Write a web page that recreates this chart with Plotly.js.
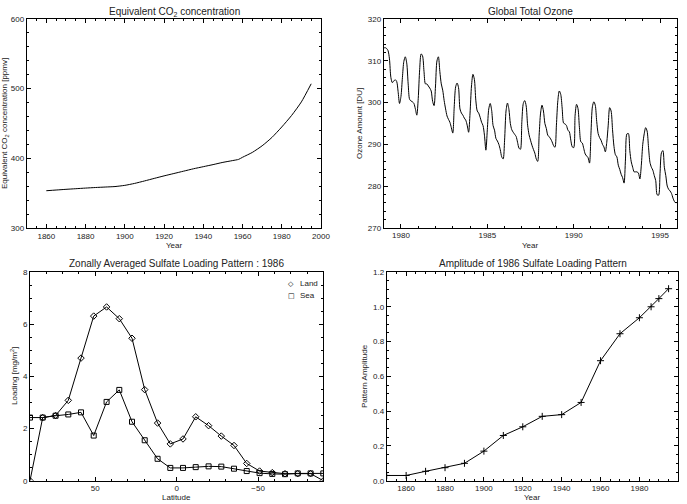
<!DOCTYPE html>
<html><head><meta charset="utf-8">
<script src="https://cdn.plot.ly/plotly-3.0.1.min.js"></script>
<style>html,body{margin:0;padding:0;background:#fff}#chart{width:687px;height:504px}</style>
</head><body><div id="chart"></div><script>
// ---- Data ----
const co2Years = [1860,1865,1870,1875,1880,1885,1890,1895,1900,1905,1910,1915,1920,1925,1930,1935,1940,1945,1950,1955,1958,1960,1965,1970,1975,1980,1985,1990,1995];
const co2Values = [353.5,354.5,355.5,356.4,357.3,358.1,358.8,359.5,361.2,364,367.5,371.2,374.8,378.2,381.6,385,388,391,394.2,396.8,398.5,401.5,408.5,418,430,445,461.5,481,507];

const ozoneYears = [1979,1980,1981,1982,1983,1984,1985,1986,1987,1988,1989,1990,1991,1992,1993,1994,1995];
const ozoneMonths = [1,2,3,4,5,6,7,8,9,10,11,12];
const ozoneMonthly = [
  [313.1,313.2,313,312.5,310.5,306,304.8,305.2,305.5,305.1,302.7,299.8],
  [301.5,306,309.9,311,309.5,304.5,300.8,300.4,300.2,299.8,298.5,297],
  [301,308,311.7,311.2,307.5,304.5,304.5,304,303.5,302.8,300.3,299.3],
  [304,310,311,307.5,304.5,303,300.5,298.5,296.8,296,295.3,294],
  [292.7,299,303.8,304.7,303.6,298.5,297.5,297,296.3,295.8,294.6,292.9],
  [297.5,304,306.8,305.6,300.6,298,297.5,296.5,295.3,294.5,292.2,288.6],
  [293.5,298.5,299.8,298.2,294.5,293.4,291.4,290.8,290,288.7,287,286.5],
  [291,298,299.9,298.4,295,293.5,292.9,292.4,291.9,290.5,289.1,288.8],
  [295.5,299.8,300.5,299.2,294.6,292.3,291,289.8,288.8,287.9,286.5,285.9],
  [292.2,297.5,299.4,298,295,293.8,292.2,291.8,291.3,290.6,289.7,289.3],
  [294.6,300.5,302.8,302,298.7,295.1,294.9,294.5,293.4,293,291,289.4],
  [289.2,297,299.6,298.6,294,290.6,290.3,289,287.7,287.2,286.8,285.5],
  [292.5,299,300.2,299.4,295.5,292.6,291.6,291,290,289.4,288.2,290.5],
  [294.6,298.8,298,293.5,289.5,287.5,287,285,284,282.8,282,280.7],
  [286.5,292.5,292.6,288.5,285.8,284.5,283.4,283.4,283.4,283.1,281.7,285],
  [290,292.5,294,293.2,289.3,285.7,284.5,283.8,282.5,281.3,277.9,277.8],
  [283,288,288.5,284.5,282.5,280,279.2,278.8,278.2,277.1,276.3,275.9]
];

const sulfateLat = [90,82.2,74.3,66.5,58.7,50.9,43.0,35.2,27.4,19.6,11.7,3.9,-3.9,-11.7,-19.6,-27.4,-35.2,-43.0,-50.9,-58.7,-66.5,-74.3,-82.2,-90];
const sulfateLand = [0,2.42,2.5,3.08,4.7,6.31,6.66,6.21,5.46,3.49,2.21,1.41,1.6,2.45,2.11,1.71,1.35,0.66,0.37,0.31,0.27,0.27,0.27,0];
const sulfateSea = [2.42,2.42,2.49,2.54,2.62,1.73,3.02,3.48,2.26,1.55,0.84,0.49,0.49,0.52,0.55,0.54,0.46,0.37,0.29,0.26,0.25,0.28,0.28,0.28];
const sulfateSeries = ['Land', 'Sea'];

const ampYears = [1850,1860,1870,1880,1890,1900,1910,1920,1930,1940,1950,1960,1970,1980,1986,1990,1995];
const ampValues = [0.03,0.03,0.054,0.075,0.1,0.17,0.26,0.31,0.37,0.38,0.45,0.69,0.845,0.937,1.0,1.047,1.104];

// ---- Build ----
const ozoneX = [], ozoneY = [];
ozoneYears.forEach((yr, i) => {
  ozoneMonths.forEach((mo, j) => {
    ozoneX.push(yr + (mo - 1) / 12);
    ozoneY.push(ozoneMonthly[i][j]);
  });
});

const F = 'Liberation Sans, Arial, Helvetica, sans-serif';
const W = 687, H = 504;
const px = x => x / W, py = y => 1 - y / H;

function ax(extra) {
  return Object.assign({
    showline: true, linecolor: '#000', linewidth: 1, mirror: 'ticks',
    ticks: 'inside', ticklen: 4, tickwidth: 1, tickcolor: '#000',
    showgrid: false, zeroline: false, autorange: false, tickmode: 'linear',
    tickfont: {family: F, size: 8, color: '#222'},
  }, extra);
}
function minor(d) { return {ticks: 'inside', ticklen: 2, tickwidth: 1, tickcolor: '#000', dtick: d, showgrid: false}; }

const line = {color: '#000', width: 1};
const traces = [
  {x: co2Years, y: co2Values, mode: 'lines', xaxis: 'x', yaxis: 'y', showlegend: false, line: {color:'#000', width:1, shape:'spline', smoothing:0.6}},
  {x: ozoneX, y: ozoneY, mode: 'lines', line: {color:'#000', width:1, shape:'spline', smoothing:0.8}, xaxis: 'x2', yaxis: 'y2', showlegend: false},
  {x: sulfateLat, y: sulfateLand, name: sulfateSeries[0], mode: 'lines+markers', line: line, marker: {symbol: 'diamond-open', size: 5, color: '#000', line: {width: 1}}, xaxis: 'x3', yaxis: 'y3', showlegend: false},
  {x: sulfateLat, y: sulfateSea, name: sulfateSeries[1], mode: 'lines+markers', line: line, marker: {symbol: 'square-open', size: 5, color: '#000', line: {width: 1}}, xaxis: 'x3', yaxis: 'y3', showlegend: false},
  {x: ampYears, y: ampValues, mode: 'lines+markers', line: line, marker: {symbol: 'cross-thin-open', size: 5, color: '#000', line: {width: 1, color: '#000'}}, xaxis: 'x4', yaxis: 'y4', showlegend: false}
];

const tfont = {family: F, size: 10, color: '#222'};
const afont = {family: F, size: 8, color: '#222'};
const sfont = {family: 'DejaVu Sans', size: 7, color: '#000'};
function ann(text, x, y, font, angle, anchor) {
  return {text: text, x: px(x), y: py(y), xref: 'paper', yref: 'paper', showarrow: false,
          xanchor: anchor || 'center', yanchor: 'middle', font: font, textangle: angle || 0};
}

const layout = {
  width: W, height: H, margin: {l: 0, r: 0, t: 0, b: 0},
  paper_bgcolor: '#fff', plot_bgcolor: '#fff',
  font: {family: F, color: '#222'},
  showlegend: false,
  xaxis: ax({domain: [px(26.7), px(321)], range: [1850, 2000], tick0: 1860, dtick: 20, minor: minor(5), anchor: 'y'}),
  yaxis: ax({domain: [py(228), py(19)], range: [300, 600], tick0: 300, dtick: 100, minor: minor(20), anchor: 'x'}),
  xaxis2: ax({domain: [px(383.7), px(677.3)], range: [1979, 1996], tick0: 1980, dtick: 5, minor: minor(1), anchor: 'y2'}),
  yaxis2: ax({domain: [py(227.7), py(19.3)], range: [270, 320], tick0: 270, dtick: 10, minor: minor(2), anchor: 'x2'}),
  xaxis3: ax({domain: [px(30), px(323.3)], range: [90, -90], tick0: 0, dtick: 50, minor: minor(10), anchor: 'y3'}),
  yaxis3: ax({domain: [py(480.7), py(272)], range: [0, 8], tick0: 0, dtick: 2, minor: minor(0.5), anchor: 'x3'}),
  xaxis4: ax({domain: [px(386.7), px(678.3)], range: [1850, 2000], tick0: 1860, dtick: 20, minor: minor(5), anchor: 'y4'}),
  yaxis4: ax({domain: [py(480.7), py(272)], range: [0, 1.2], tick0: 0, dtick: 0.2, tickformat: '.1f', minor: minor(0.05), anchor: 'x4'}),
  annotations: [
    ann('Equivalent CO<sub>2</sub> concentration', 174, 11.5, tfont),
    ann('Global Total Ozone', 530.5, 11.5, tfont),
    ann('Zonally Averaged Sulfate Loading Pattern : 1986', 176.5, 263.5, tfont),
    ann('Amplitude of 1986 Sulfate Loading Pattern', 532.5, 263.5, tfont),
    ann('Year', 174, 245, afont),
    ann('Year', 530.5, 245, afont),
    ann('Latitude', 176.5, 497.5, afont),
    ann('Year', 532.5, 497.5, afont),
    ann('Equivalent CO<sub>2</sub> concentration [ppmv]', 5, 124, afont, -90),
    ann('Ozone Amount [DU]', 359, 124, afont, -90),
    ann('Loading [mg/m<sup>2</sup>]', 14, 376, afont, -90),
    ann('Pattern Amplitude', 364, 376, afont, -90),
    // legend for the sulfate panel
    ann('\u25C7', 291, 284, sfont),
    ann('\u25A1', 291, 296, sfont),
    ann(sulfateSeries[0], 297.5, 283.5, afont, 0, 'left'),
    ann(sulfateSeries[1], 297.5, 295.5, afont, 0, 'left')
  ]
};

Plotly.newPlot('chart', traces, layout, {staticPlot: true, displayModeBar: false});
</script></body></html>
